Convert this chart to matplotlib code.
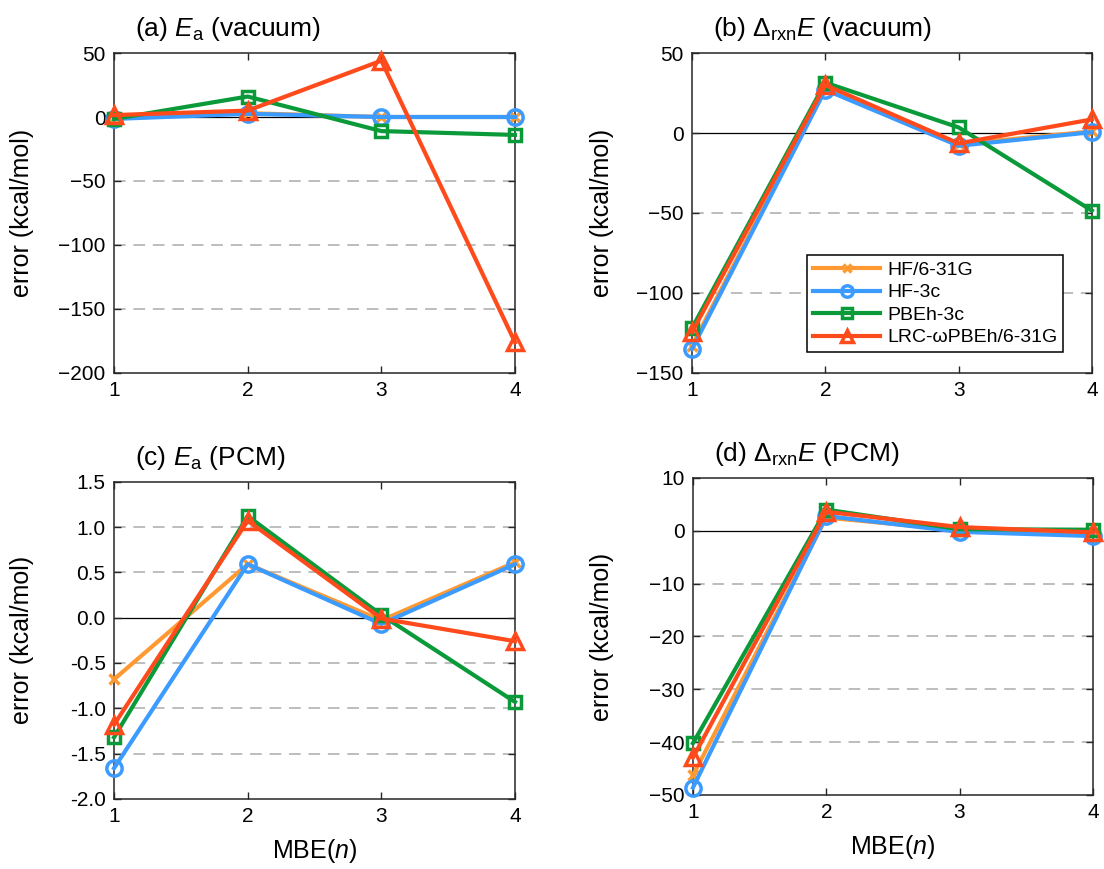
import numpy as np
import matplotlib
matplotlib.use('Agg')
import matplotlib.pyplot as plt

plt.rcParams['font.family'] = ['Liberation Sans', 'DejaVu Sans']
plt.rcParams['mathtext.fontset'] = 'custom'
plt.rcParams['mathtext.rm'] = 'Liberation Sans'
plt.rcParams['mathtext.it'] = 'Liberation Sans:italic'

n = [1, 2, 3, 4]
methods = ['HF/6-31G', 'HF-3c', 'PBEh-3c', 'LRC-ωPBEh/6-31G']

# (a) Ea vacuum
ea_vac_hf631g = [-1, 3, 0, 0]
ea_vac_hf3c = [-1.5, 2.5, 0, 0]
ea_vac_pbeh3c = [-1.5, 16, -11, -14]
ea_vac_lrc = [1.5, 5, 44, -176]

# (b) dE vacuum
de_vac_hf631g = [-133, 28, -7, 1]
de_vac_hf3c = [-135, 27, -8, 0.5]
de_vac_pbeh3c = [-122, 31.5, 3.5, -48.5]
de_vac_lrc = [-124.5, 30, -6.5, 8.5]

# (c) Ea PCM
ea_pcm_hf631g = [-0.68, 0.59, -0.03, 0.61]
ea_pcm_hf3c = [-1.66, 0.59, -0.07, 0.59]
ea_pcm_pbeh3c = [-1.32, 1.12, 0.03, -0.93]
ea_pcm_lrc = [-1.18, 1.07, -0.01, -0.26]

# (d) dE PCM
de_pcm_hf631g = [-46.3, 2.5, 0.1, -0.5]
de_pcm_hf3c = [-48.6, 2.8, -0.2, -1.0]
de_pcm_pbeh3c = [-40.2, 4.0, 0.3, 0.2]
de_pcm_lrc = [-42.9, 3.6, 0.7, -0.3]

colors = ['#FF9A33', '#3C9BFF', '#0A9A3A', '#FF4A1C']
markers = ['x', 'o', 's', '^']
msizes = [7, 11, 9, 11]

panels = [
    ('(a) $E_\\mathrm{a}$ (vacuum)', [ea_vac_hf631g, ea_vac_hf3c, ea_vac_pbeh3c, ea_vac_lrc],
     [-200, -150, -100, -50, 0, 50], None),
    ('(b) $\\Delta_\\mathrm{rxn}E$ (vacuum)', [de_vac_hf631g, de_vac_hf3c, de_vac_pbeh3c, de_vac_lrc],
     [-150, -100, -50, 0, 50], None),
    ('(c) $E_\\mathrm{a}$ (PCM)', [ea_pcm_hf631g, ea_pcm_hf3c, ea_pcm_pbeh3c, ea_pcm_lrc],
     [-2.0, -1.5, -1.0, -0.5, 0.0, 0.5, 1.0, 1.5], '%.1f'),
    ('(d) $\\Delta_\\mathrm{rxn}E$ (PCM)', [de_pcm_hf631g, de_pcm_hf3c, de_pcm_pbeh3c, de_pcm_lrc],
     [-50, -40, -30, -20, -10, 0, 10], None),
]

boxes = [
    [0.1033, 0.5708, 0.3632, 0.3682],
    [0.6268, 0.5708, 0.3622, 0.3682],
    [0.1033, 0.0806, 0.3632, 0.3651],
    [0.6277, 0.0852, 0.3622, 0.3648],
]
ylabel_x = [-0.200, -0.195, -0.200, -0.197]

fig = plt.figure(figsize=(11.04, 8.69), dpi=100)

for i, (title, series, yt, fmt) in enumerate(panels):
    ax = fig.add_axes(boxes[i])
    for t in yt[1:-1]:
        if t == 0:
            ax.axhline(0, color='black', lw=0.9, zorder=1)
        else:
            ax.axhline(t, color='#BDBDBD', lw=1.4, ls=(0, (6, 4)), zorder=1)
    for j, ys in enumerate(series):
        ax.plot(n, ys, color=colors[j], lw=3, marker=markers[j], ms=msizes[j],
                mfc='none', mec=colors[j], mew=2.5, label=methods[j], zorder=3 + j,
                clip_on=False)
    ax.set_xlim(1, 4)
    ax.set_ylim(yt[0], yt[-1])
    ax.set_xticks(n)
    ax.set_yticks(yt)
    if fmt:
        ax.set_yticklabels([fmt % v for v in yt])
    ax.tick_params(direction='in', top=True, right=True, length=5, width=1,
                   labelsize=15, color='#262626', pad=6)
    for s in ax.spines.values():
        s.set_color('#262626')
        s.set_linewidth(1.1)
    ax.set_ylabel('error (kcal/mol)', fontsize=18)
    ax.yaxis.set_label_coords(ylabel_x[i], 0.5)
    if i >= 2:
        ax.set_xlabel('MBE($n$)', fontsize=18, labelpad=8)
    ax.text(0.052, 1.03, title, transform=ax.transAxes, fontsize=19,
            ha='left', va='bottom')
    if i == 1:
        leg = ax.legend(loc='lower right', bbox_to_anchor=(0.928, 0.065), fontsize=14,
                        handlelength=3.45, fancybox=False, framealpha=1,
                        edgecolor='black', borderpad=0.3, labelspacing=0.25,
                        handletextpad=0.35, borderaxespad=0)
        leg.get_frame().set_linewidth(1.1)
        for h in leg.legend_handles:
            h.set_markersize(h.get_markersize() * 0.75)

fig.savefig('out.png', dpi=100)
